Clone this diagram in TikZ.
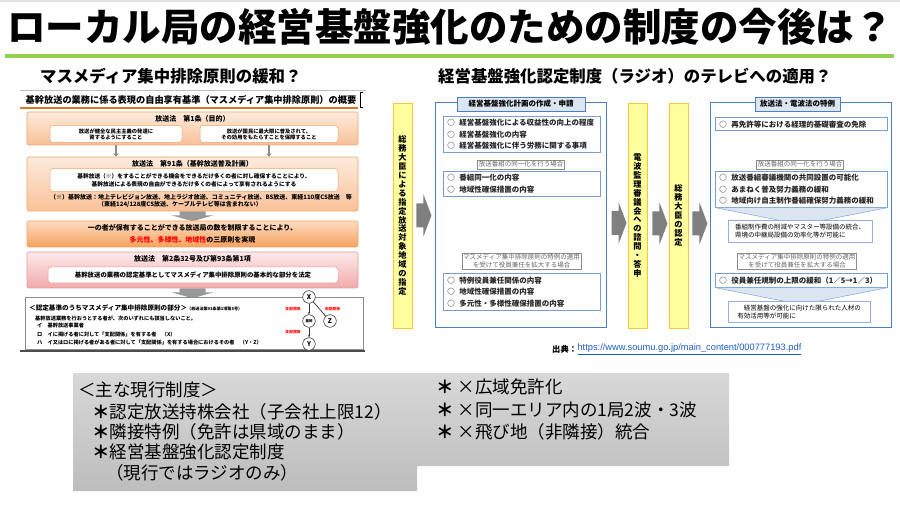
\documentclass[tikz,border=0pt]{standalone}
\usepackage{fontspec}
\setmainfont{Noto Sans CJK JP}
\newfontfamily\urlfamily{Liberation Sans}
\usetikzlibrary{arrows.meta, positioning, calc}
\definecolor{titlegreen}{HTML}{92D050}
\definecolor{rulebrown}{HTML}{E0782A}
\definecolor{peachtop}{HTML}{FDEBDD}
\definecolor{peachbot}{HTML}{F9C198}
\definecolor{peachline}{HTML}{F2A367}
\definecolor{triadtop}{HTML}{FDDCC0}
\definecolor{triadbot}{HTML}{F6A25E}
\definecolor{pinktop}{HTML}{FDEAEA}
\definecolor{pinkbot}{HTML}{F2AAAA}
\definecolor{pinkline}{HTML}{E39A9A}
\definecolor{lemon}{HTML}{FFFF9E}
\definecolor{amber}{HTML}{FFC533}
\definecolor{planblue}{HTML}{4A7EC5}
\definecolor{paleblue}{HTML}{DCE6F3}
\definecolor{arrowgray}{HTML}{7F7F7F}
\definecolor{linkblue}{HTML}{1F5FC8}
\definecolor{memotop}{HTML}{D8D8D8}
\definecolor{memobot}{HTML}{BDBDBD}

\newcommand\titlesize{\fontsize{38.5}{42}\selectfont\bfseries}
\newcommand\subsize{\fontsize{16.4}{19}\selectfont\bfseries}
\newcommand\memosize{\fontsize{17.5}{21}\selectfont}
\newcommand\tatesize{\fontsize{8.2}{8.9}\selectfont\bfseries}
\newcommand\plansize{\fontsize{7.5}{11.6}\selectfont\bfseries}
\newcommand\casesize{\fontsize{6.5}{7.9}\selectfont}
\newcommand\lawhead{\fontsize{9.2}{10}\selectfont\bfseries}
\newcommand\lawtitle{\fontsize{7}{8}\selectfont\bfseries}
\newcommand\lawsmall{\fontsize{5.3}{5.9}\selectfont\bfseries}
\newcommand\lawbody{\fontsize{5.7}{8}\selectfont\bfseries}
\newcommand\lawnotesize{\fontsize{6}{7}\selectfont\bfseries}
\newcommand\rulebody{\fontsize{5.2}{6}\selectfont\bfseries}
\newcommand\maru{○\hspace{4.5pt}}
\newcommand\hoshi{{\bfseries ＊}}

\begin{document}
\begin{tikzpicture}[
    x=1pt, y=-1pt,
    every node/.style={inner sep=0pt},
    lawpane/.style={draw=peachline, line width=0.6pt, rounded corners=2pt, top color=peachtop, bottom color=peachbot, minimum width=331},
    lawnote/.style={draw=peachline, line width=0.5pt, rounded corners=3pt, fill=white, align=center},
    ctrl/.style={circle, draw=black!75, line width=0.6pt, fill=white, minimum size=12.6, font=\fontsize{6.5}{7}\selectfont\bfseries},
    ctrlarrow/.style={-{Stealth[length=2.5pt]}, line width=0.7pt, black!80},
    ctrllabel/.style={text=red, font=\fontsize{3.8}{4}\selectfont\bfseries},
    lemonbar/.style={draw=amber, line width=0.9pt, fill=lemon, minimum width=19, minimum height=225, align=center, font=\tatesize},
    plan/.style={draw=planblue, line width=1pt, fill=white, minimum height=224},
    plantab/.style={draw=planblue, line width=0.8pt, fill=paleblue, minimum height=14, font=\plansize},
    planitems/.style={draw=planblue!75, line width=0.6pt, anchor=north west, align=left, inner xsep=4pt, font=\plansize, text=black!85},
    case/.style={draw=black!45, line width=0.4pt, inner sep=1.2pt, align=center, text=black!60, font=\casesize},
    funnel/.style={fill=paleblue, draw=planblue!70, line width=0.5pt},
    result/.style={draw=planblue!60, line width=0.5pt, fill=white, inner sep=2.5pt, align=left, font=\casesize},
    memo/.style={anchor=west, font=\memosize},
    pics/rarrow/.style={code={\fill[arrowgray] (0,-12) -- (7,-12) -- (7,-21) -- (15,0) -- (7,21) -- (7,12) -- (0,12) -- cycle;}},
    pics/darrow/.style={code={\fill[arrowgray!80] (-13,0) -- (13,0) -- (13,4) -- (21,4) -- (0,10) -- (-21,4) -- (-13,4) -- cycle;}},
]
\useasboundingbox (0,0) rectangle (900,505);
\fill[white] (0,0) rectangle (900,505);
\fill[black!12] (0,0) rectangle (900,2);

\node[font=\titlesize] (title) at (450,27) {ローカル局の経営基盤強化のための制度の今後は？};
\fill[titlegreen] (5,54) rectangle (894,58.5);
\node[font=\subsize, anchor=west] (leftsub) at (40,76) {マスメディア集中排除原則の緩和？};
\node[font=\subsize, anchor=west] (rightsub) at (438,76) {経営基盤強化認定制度（ラジオ）のテレビへの適用？};

% left: outline of the media rule
\draw[black!25, line width=0.6pt] (20,90) -- (366,90);
\node[font=\lawhead] (lawhead) at (191,100) {基幹放送の業務に係る表現の自由享有基準（マスメディア集中排除原則）の概要};
\fill[rulebrown] (20,107.3) rectangle (358,109.3);
\draw[black, line width=0.5pt] (363,92) -- (360.5,92) -- (360.5,107) -- (363,107);

\node[lawpane, minimum height=33] (art1) at (192.5,128.5) {};
\node[font=\lawtitle] (art1t) at (192.5,118.5) {放送法　第1条（目的）};
\node[lawnote, minimum width=132, minimum height=17, font=\lawsmall] (aimL) at (116,134) {放送が健全な民主主義の発達に\\資するようにすること};
\node[lawnote, minimum width=138, minimum height=17, font=\lawsmall] (aimR) at (269,134) {放送が国民に最大限に普及されて、\\その効用をもたらすことを保障すること};

\node[lawpane, minimum height=54] (art91) at (192.5,184) {};
\node[font=\lawtitle] (art91t) at (192.5,163.5) {放送法　第91条（基幹放送普及計画）};
\node[lawnote, minimum width=288, minimum height=23, font=\lawbody] (plan91) at (194,180) {基幹放送（※）をすることができる機会をできるだけ多くの者に対し確保することにより、\\基幹放送による表現の自由ができるだけ多くの者によって享有されるようにする};
\node[font=\lawnotesize] (note1) at (201,197) {（※）基幹放送：地上テレビジョン放送、地上ラジオ放送、コミュニティ放送、BS放送、東経110度CS放送　等};
\node[font=\lawnotesize] (note2) at (180,204.5) {（東経124/128度CS放送、ケーブルテレビ等は含まれない）};

\draw[-{Triangle[length=3pt, width=5pt]}, black!45, line width=1.6pt] (aimL.south |- art1.south) -- (aimL.south |- art91.north);
\draw[-{Triangle[length=3pt, width=5pt]}, black!45, line width=1.6pt] (aimR.south |- art1.south) -- (aimR.south |- art91.north);
\pic at (art91.south) {darrow};

\node[lawpane, top color=triadtop, bottom color=triadbot, minimum height=26, align=center, font=\fontsize{7}{12}\selectfont\bfseries] (triad) at (192.5,234) {一の者が保有することができる放送局の数を制限することにより、\\{\color{red}多元性、多様性、地域性}の三原則を実現};

\node[lawpane, draw=pinkline, top color=pinktop, bottom color=pinkbot, minimum height=36] (art2) at (192.5,270) {};
\node[font=\lawtitle] (art2t) at (192.5,259) {放送法　第2条32号及び第93条第1項};
\node[lawnote, draw=pinkline, minimum width=290, minimum height=16, font=\fontsize{6.4}{7}\selectfont\bfseries] (art2n) at (193,275) {基幹放送の業務の認定基準としてマスメディア集中排除原則の基本的な部分を法定};
\pic at (art2.south) {darrow};

\node[draw=black!45, line width=0.6pt, fill=white, minimum width=338, minimum height=52] (rule) at (194,323) {};
\draw[black!70, line width=1.6pt] (20,351) -- (365,351);
\node[anchor=west, font=\fontsize{6.6}{7}\selectfont\bfseries] (rulehead) at (29,308) {＜認定基準のうちマスメディア集中排除原則の部分＞};
\node[anchor=west, font=\fontsize{4.1}{5}\selectfont\bfseries] (rulesrc) at (187,308.5) {（放送法第93条第1項第5号）};
\node[anchor=west, font=\rulebody] (rule0) at (35,318) {基幹放送業務を行おうとする者が、次のいずれにも該当しないこと。};
\node[anchor=west, font=\rulebody] (rule1) at (37,326) {イ　基幹放送事業者};
\node[anchor=west, font=\rulebody] (rule2) at (37,334.5) {ロ　イに掲げる者に対して「支配関係」を有する者　（X）};
\node[anchor=west, font=\rulebody] (rule3) at (37,343) {ハ　イ又はロに掲げる者がある者に対して「支配関係」を有する場合におけるその者　（Y・Z）};

\node[ctrl] (nx) at (309,297) {X};
\node[ctrl, font=\fontsize{3.5}{4}\selectfont\bfseries] (nk) at (309,321) {基幹};
\node[ctrl] (nz) at (330,321) {Z};
\node[ctrl] (ny) at (309,344) {Y};
\draw[ctrlarrow] (nx) -- node[ctrllabel, left=8pt] (rel1) {支配関係} (nk);
\draw[ctrlarrow] (nx) -- node[ctrllabel, right=5pt] (rel2) {支配関係} (nz);
\draw[ctrlarrow] (nk) -- node[ctrllabel, left=8pt] (rel3) {支配関係} (ny);

% right: certification flow
\node[lemonbar] (bar1) at (402.5,215.5) {総\\務\\大\\臣\\に\\よ\\る\\指\\定\\放\\送\\対\\象\\地\\域\\の\\指\\定};
\node[plan, minimum width=171] (planA) at (520.5,215) {};
\node[plantab, minimum width=128] (tabA) at (521,104) {経営基盤強化計画の作成・申請};
\node[planitems, minimum width=157, minimum height=36, text width=149] (itemA1) at (443,116) {\maru 経営基盤強化による収益性の向上の程度\\\maru 経営基盤強化の内容\\\maru 経営基盤強化に伴う労務に関する事項};
\node[case] (caseA1) at (521,164.5) {放送番組の同一化を行う場合};
\node[planitems, minimum width=157, minimum height=25, text width=149] (itemA2) at (443,171) {\maru 番組同一化の内容\\\maru 地域性確保措置の内容};
\node[case] (caseA2) at (521.5,261) {マスメディア集中排除原則の特例の適用\\を受けて役員兼任を拡大する場合};
\node[planitems, minimum width=157, minimum height=37, text width=149] (itemA3) at (443,273) {\maru 特例役員兼任関係の内容\\\maru 地域性確保措置の内容\\\maru 多元性・多様性確保措置の内容};

\node[lemonbar] (bar2) at (637.5,215.5) {電\\波\\監\\理\\審\\議\\会\\へ\\の\\諮\\問\\・\\答\\申};
\node[lemonbar] (bar3) at (678.5,215.5) {総\\務\\大\\臣\\の\\認\\定};

\node[plan, minimum width=181] (planB) at (800.5,215) {};
\node[plantab, minimum width=85] (tabB) at (797.5,104) {放送法・電波法の特例};
\node[planitems, minimum width=172, minimum height=13, text width=164] (itemB1) at (715,117.5) {\maru 再免許等における経理的基礎審査の免除};
\node[case] (caseB1) at (800,164.5) {放送番組の同一化を行う場合};
\node[planitems, minimum width=172, minimum height=36, text width=164] (itemB2) at (715,171) {\maru 放送番組審議機関の共同設置の可能化\\\maru あまねく普及努力義務の緩和\\\maru 地域向け自主制作番組確保努力義務の緩和};
\filldraw[funnel] (itemB2.south west) -- (itemB2.south east) -- ($(itemB2.south)+(0,17)$) -- cycle;
\node[result, minimum width=144, minimum height=22] (gainB2) at (800,231) {番組制作費の削減やマスター等設備の統合、\\県境の中継局設備の効率化等が可能に};
\node[case] (caseB2) at (797,261) {マスメディア集中排除原則の特例の適用\\を受けて役員兼任を拡大する場合};
\node[planitems, minimum width=172, minimum height=14, text width=164] (itemB3) at (715,273) {\maru 役員兼任規制の上限の緩和（1／5→1／3）};
\filldraw[funnel] (itemB3.south west) -- (itemB3.south east) -- ($(itemB3.south)+(0,17)$) -- cycle;
\node[result, minimum width=142, minimum height=21] (gainB3) at (799,312) {　経営基盤の強化に向けた限られた人材の\\有効活用等が可能に};

\pic at ($(bar1.east)+(4,0)$) {rarrow};
\pic at ($(planA.east)+(5,8)$) {rarrow};
\pic at ($(bar2.east)+(5,8)$) {rarrow};
\pic at ($(bar3.east)+(4,8)$) {rarrow};

\node[anchor=west, font=\fontsize{8.3}{9}\selectfont\bfseries] (srclabel) at (552,349) {出典：};
\node[right=0pt of srclabel, font=\urlfamily\fontsize{9.3}{10}\selectfont, text=linkblue] (srcurl) {\underline{https://www.soumu.go.jp/main\_content/000777193.pdf}};

% bottom: memo
\path[top color=memotop, bottom color=memobot] (73,373) -- (729,373) -- (729,466) -- (417,466) -- (417,491) -- (73,491) -- cycle;
\node[memo] (memohead) at (78,390) {＜主な現行制度＞};
\node[memo] (memo1) at (92,411.5) {\hoshi 認定放送持株会社（子会社上限12）};
\node[memo] (memo2) at (92,431.5) {\hoshi 隣接特例（免許は県域のまま）};
\node[memo] (memo3) at (92,452) {\hoshi 経営基盤強化認定制度};
\node[memo] (memo4) at (106,473) {（現行ではラジオのみ）};
\node[memo] (ban1) at (436,387) {\hoshi\ ×広域免許化};
\node[memo] (ban2) at (436,409.5) {\hoshi\ ×同一エリア内の1局2波・3波};
\node[memo] (ban3) at (436,432) {\hoshi\ ×飛び地（非隣接）統合};
\end{tikzpicture}
\end{document}
